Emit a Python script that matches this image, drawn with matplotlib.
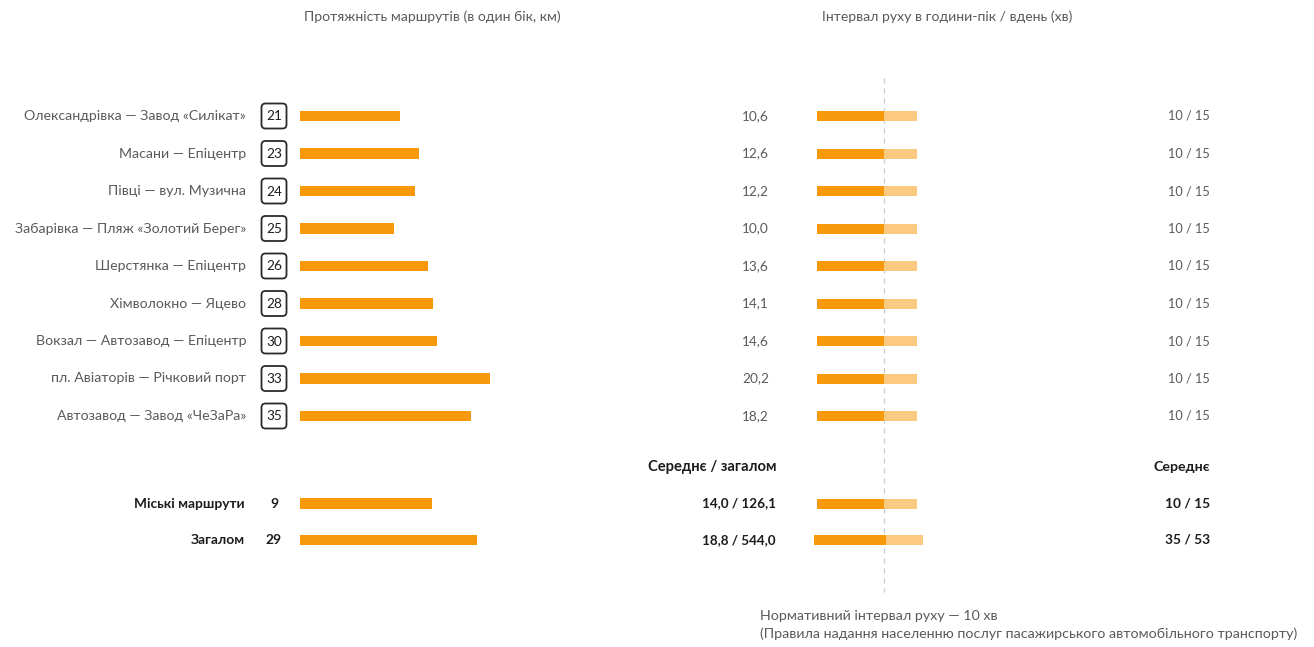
import matplotlib.pyplot as plt
from matplotlib.patches import FancyBboxPatch

# ---- data -------------------------------------------------------------
routes = [
    "Олександрівка — Завод «Силікат»",
    "Масани — Епіцентр",
    "Півці — вул. Музична",
    "Забарівка — Пляж «Золотий Берег»",
    "Шерстянка — Епіцентр",
    "Хімволокно — Яцево",
    "Вокзал — Автозавод — Епіцентр",
    "пл. Авіаторів — Річковий порт",
    "Автозавод — Завод «ЧеЗаРа»",
]
route_numbers = [21, 23, 24, 25, 26, 28, 30, 33, 35]
lengths_km = [10.6, 12.6, 12.2, 10.0, 13.6, 14.1, 14.6, 20.2, 18.2]
interval_peak = [10, 10, 10, 10, 10, 10, 10, 10, 10]
interval_day = [15, 15, 15, 15, 15, 15, 15, 15, 15]

summary_labels = ["Міські маршрути", "Загалом"]
summary_counts = [9, 29]
summary_avg_len = [14.0, 18.8]
summary_total_len = [126.1, 544.0]
summary_peak = [10, 35]
summary_day = [15, 53]

norm_interval = 10

title_left = "Протяжність маршрутів (в один бік, км)"
title_right = "Інтервал руху в години-пік / вдень (хв)"
head_len = "Середнє / загалом"
head_int = "Середнє"
note_lines = [
    "Нормативний інтервал руху — 10 хв",
    "(Правила надання населенню послуг пасажирського автомобільного транспорту)",
]

# ---- style ------------------------------------------------------------
ORANGE = "#F8990C"
LIGHT = "#FBCA80"
GREY = "#5a5a5a"
DARK = "#1c1c1c"
FONT = ["Lato", "DejaVu Sans"]
plt.rcParams["font.family"] = FONT

W, H = 1314, 647
fig = plt.figure(figsize=(W / 100, H / 100), dpi=100)
fig.patch.set_facecolor("white")


def fmt(v):
    return f"{v:.1f}".replace(".", ",")


# canvas in pixel units for text and boxes
ax = fig.add_axes([0, 0, 1, 1])
ax.set_xlim(0, W)
ax.set_ylim(H, 0)
ax.axis("off")

row0, step = 116, 37.5
rows = [row0 + i * step for i in range(len(routes))]
head_y = 467
sum_rows = [503.5, 540]

# length axis: 0 km at x=299.5 px, 9.45 px per km
len_px = 9.45
axL = fig.add_axes([299.5 / W, 0, 240 / W, 1])
axL.set_xlim(0, 240 / len_px)
axL.set_ylim(H, 0)
axL.axis("off")
axL.barh(rows, lengths_km, height=10.5, color=ORANGE, linewidth=0)
axL.barh(sum_rows, summary_avg_len, height=10.5, color=ORANGE, linewidth=0)

# interval axis: 0 min at x=816.5 px, 6.7 px per minute
int_px = 6.7
axI = fig.add_axes([816.5 / W, 0, 160 / W, 1])
axI.set_xlim(0, 160 / int_px)
axI.set_ylim(H, 0)
axI.axis("off")
ys_i = rows + sum_rows[:1]
pk = interval_peak + summary_peak[:1]
dy = interval_day + summary_day[:1]
axI.barh(ys_i, pk, height=10, color=ORANGE, linewidth=0)
axI.barh(ys_i, [d - p for d, p in zip(dy, pk)], left=pk, height=10,
         color=LIGHT, linewidth=0)
axI.vlines(norm_interval, 78, 592, colors="#c9c9c9", linestyles=(0, (4, 4)),
           linewidth=0.9, zorder=0)

# all-routes interval row on a compressed scale
tot_px = 2.064
axT = fig.add_axes([814 / W, 0, 160 / W, 1])
axT.set_xlim(0, 160 / tot_px)
axT.set_ylim(H, 0)
axT.axis("off")
axT.barh(sum_rows[1:], summary_peak[1:], height=10, color=ORANGE, linewidth=0)
axT.barh(sum_rows[1:], [summary_day[1] - summary_peak[1]], left=summary_peak[1:],
         height=10, color=LIGHT, linewidth=0)

# titles
ax.text(432, 17, title_left, ha="center", va="center", fontsize=10.1, color=GREY)
ax.text(947, 17, title_right, ha="center", va="center", fontsize=10.1, color=GREY)

# route rows
for y, name, num, ln, p, d in zip(rows, routes, route_numbers, lengths_km,
                                  interval_peak, interval_day):
    ax.text(246, y, name, ha="right", va="center", fontsize=10.2, color=GREY)
    box = FancyBboxPatch((261.5, y - 12.5), 25, 25,
                         boxstyle="round,pad=0,rounding_size=4",
                         fill=False, edgecolor="#2a2a2a", linewidth=1.3)
    ax.add_patch(box)
    ax.text(274, y + 0.5, str(num), ha="center", va="center", fontsize=9.8,
            color=DARK)
    ax.text(769, y, fmt(ln), ha="right", va="center", fontsize=9.8, color=GREY)
    ax.text(1210, y, f"{p} / {d}", ha="right", va="center", fontsize=9.2,
            color=GREY)

# summary header
ax.text(776, head_y, head_len, ha="right", va="center", fontsize=10.6,
        color=DARK, fontweight="bold")
ax.text(1210, head_y, head_int, ha="right", va="center", fontsize=10.2,
        color=DARK, fontweight="bold")

# summary rows
for y, lab, cnt, al, tl, p, d in zip(sum_rows, summary_labels, summary_counts,
                                     summary_avg_len, summary_total_len,
                                     summary_peak, summary_day):
    ax.text(245, y, lab, ha="right", va="center", fontsize=9.9,
            color=DARK, fontweight="bold")
    ax.text(274, y, str(cnt), ha="center", va="center", fontsize=9.9,
            color=DARK, fontweight="bold")
    ax.text(776, y, f"{fmt(al)} / {fmt(tl)}", ha="right", va="center",
            fontsize=9.7, color=DARK, fontweight="bold")
    ax.text(1210, y, f"{p} / {d}", ha="right", va="center", fontsize=9.9,
            color=DARK, fontweight="bold")

# footnote
ax.text(760, 616, note_lines[0], ha="left", va="center", fontsize=10.3, color=GREY)
ax.text(760, 634, note_lines[1], ha="left", va="center", fontsize=10.3, color=GREY)

fig.savefig("out.png", dpi=100, facecolor="white")
